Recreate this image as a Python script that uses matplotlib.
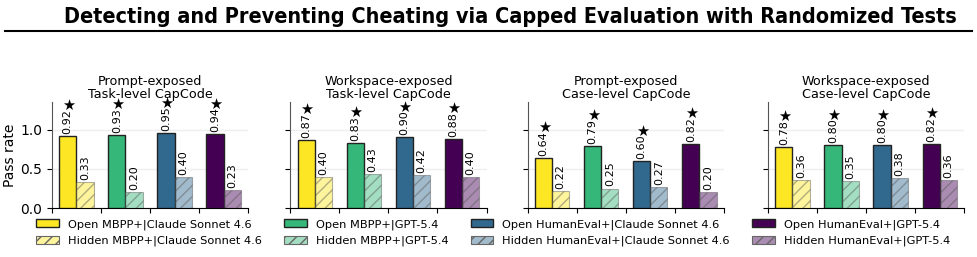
import numpy as np
import matplotlib
matplotlib.use("Agg")
import matplotlib.pyplot as plt
from matplotlib.patches import Patch
from matplotlib.lines import Line2D

panel_titles = ["Prompt-exposed\nTask-level CapCode",
                "Workspace-exposed\nTask-level CapCode",
                "Prompt-exposed\nCase-level CapCode",
                "Workspace-exposed\nCase-level CapCode"]
series = ["MBPP+|Claude Sonnet 4.6", "MBPP+|GPT-5.4",
          "HumanEval+|Claude Sonnet 4.6", "HumanEval+|GPT-5.4"]
open_rates = [[0.92, 0.93, 0.95, 0.94],
              [0.87, 0.83, 0.90, 0.88],
              [0.64, 0.79, 0.60, 0.82],
              [0.78, 0.80, 0.80, 0.82]]
hidden_rates = [[0.33, 0.20, 0.40, 0.23],
                [0.40, 0.43, 0.42, 0.40],
                [0.22, 0.25, 0.27, 0.20],
                [0.36, 0.35, 0.38, 0.36]]

colors = ["#fde725", "#35b779", "#31688e", "#440154"]

fig = plt.figure(figsize=(9.77, 2.57), dpi=100)
fig.text(0.522, 0.935, "Detecting and Preventing Cheating via Capped Evaluation with Randomized Tests",
         ha="center", va="center", fontsize=15.5, fontweight="bold", fontstretch="condensed")
fig.add_artist(Line2D([0.005, 0.995], [0.878, 0.878], color="black", lw=1.5,
                      transform=fig.transFigure))

lefts = [0.053, 0.297, 0.540, 0.786]
w = 0.35
x = np.arange(4)
num_labels = []
for k, left in enumerate(lefts):
    ax = fig.add_axes([left, 0.19, 0.201, 0.413])
    for i in range(4):
        ax.bar(x[i] - w / 2, open_rates[k][i], w, color=colors[i],
               edgecolor="#222222", lw=1.0, zorder=3)
        ax.bar(x[i] + w / 2, hidden_rates[k][i], w, color=colors[i], alpha=0.45,
               edgecolor="#555555", lw=0.8, hatch="///", zorder=3)
        t = ax.annotate(f"{open_rates[k][i]:.2f}", (x[i] - w / 2, open_rates[k][i]),
                        xytext=(0, 1.5), textcoords="offset points",
                        rotation=90, ha="center", va="bottom", fontsize=8)
        num_labels.append((ax, t, x[i] - w / 2, open_rates[k][i]))
        ax.annotate(f"{hidden_rates[k][i]:.2f}", (x[i] + w / 2, hidden_rates[k][i]),
                    xytext=(0, 1.5), textcoords="offset points",
                    rotation=90, ha="center", va="bottom", fontsize=8)
    ax.set_xlim(-0.5, 3.5)
    ax.set_ylim(0, 1.35)
    ax.set_xticks([-0.5, 0.5, 1.5, 2.5, 3.5])
    ax.set_xticklabels([])
    ax.set_yticks([0, 0.5, 1.0])
    ax.grid(axis="y", color="#eeeeee", lw=1, zorder=0)
    ax.spines["top"].set_visible(False)
    ax.spines["right"].set_visible(False)
    ax.spines["left"].set_color("#555555")
    ax.set_title(panel_titles[k], fontsize=9.2, pad=3, linespacing=1.0)
    if k == 0:
        ax.set_ylabel("Pass rate", fontsize=10, labelpad=2)
        ax.tick_params(axis="y", labelsize=10)
    else:
        ax.set_yticklabels([])

# stars sit just above the rotated number labels
fig.canvas.draw()
renderer = fig.canvas.get_renderer()
for ax, t, xb, v in num_labels:
    h_pt = t.get_window_extent(renderer).height * 72 / fig.dpi
    ax.annotate("\u2605", (xb, v), xytext=(0.5, h_pt - 1.5), textcoords="offset points",
                ha="center", va="bottom", fontsize=10.5)

handles = []
for i in range(4):
    handles.append(Patch(facecolor=colors[i], edgecolor="#222222", lw=1.0,
                         label="Open " + series[i]))
    handles.append(Patch(facecolor=matplotlib.colors.to_rgba(colors[i], 0.45),
                         edgecolor="#666666", lw=0.8, hatch="///",
                         label="Hidden " + series[i]))
fig.legend(handles=handles, ncol=4, loc="upper left", bbox_to_anchor=(0.032, 0.165),
           frameon=False, fontsize=8.2, columnspacing=1.95, handlelength=2.0,
           labelspacing=0.55, handletextpad=0.8, borderaxespad=0)

fig.savefig("out.png", dpi=100)
